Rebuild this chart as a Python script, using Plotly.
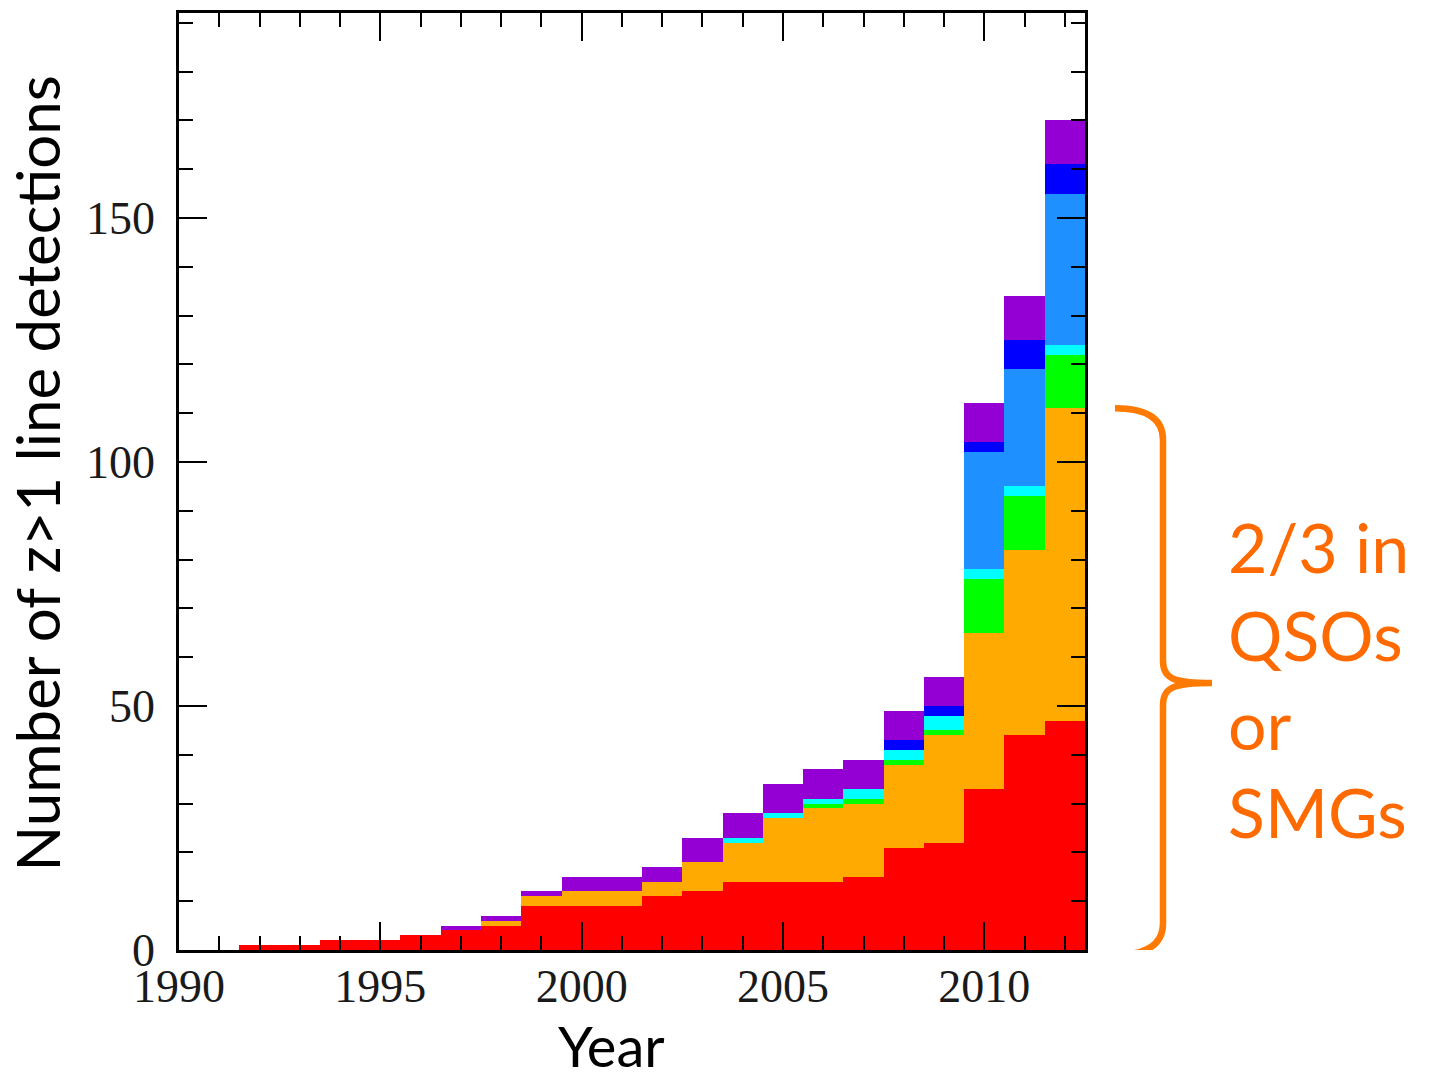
import plotly.graph_objects as go

# ---- data (counts per year bin) ----
years = list(range(1992, 2013))
red_vals    = [1, 1, 2, 2, 3, 4, 5, 9, 9, 9, 11, 12, 14, 14, 14, 15, 21, 22, 33, 44, 47]
orange_vals = [0, 0, 0, 0, 0, 0, 1, 2, 3, 3, 3, 6, 8, 13, 15, 15, 17, 22, 32, 38, 64]
green_vals  = [0, 0, 0, 0, 0, 0, 0, 0, 0, 0, 0, 0, 0, 0, 1, 1, 1, 1, 11, 11, 11]
cyan_vals   = [0, 0, 0, 0, 0, 0, 0, 0, 0, 0, 0, 0, 1, 1, 1, 2, 2, 3, 2, 2, 2]
dodger_vals = [0, 0, 0, 0, 0, 0, 0, 0, 0, 0, 0, 0, 0, 0, 0, 0, 0, 0, 24, 24, 31]
blue_vals   = [0, 0, 0, 0, 0, 0, 0, 0, 0, 0, 0, 0, 0, 0, 0, 0, 2, 2, 2, 6, 6]
purple_vals = [0, 0, 0, 0, 0, 1, 1, 1, 3, 3, 3, 5, 5, 6, 6, 6, 6, 6, 8, 9, 9]

series = [
    ("red", red_vals, "#FF0000"),
    ("orange", orange_vals, "#FFAA00"),
    ("green", green_vals, "#00FF00"),
    ("cyan", cyan_vals, "#00FFFF"),
    ("dodgerblue", dodger_vals, "#1E90FF"),
    ("blue", blue_vals, "#0000FF"),
    ("purple", purple_vals, "#9400D3"),
]

x_tickvals = [1990, 1995, 2000, 2005, 2010]
y_tickvals = [0, 50, 100, 150]

fig = go.Figure()
for name, vals, col in series:
    fig.add_trace(go.Bar(x=years, y=vals, name=name, width=1,
                         marker=dict(color=col, line=dict(width=0)),
                         showlegend=False, hoverinfo="skip"))

W, H = 1431, 1081
L, R, T, B = 179, 346, 10, 131
plot_w = W - L - R
plot_h = H - T - B

def px2paper_x(px):
    return (px - L) / plot_w

def px2paper_y(py):
    return (H - B - py) / plot_h

tickfont = dict(family="Liberation Serif", size=46, color="#1a1a1a")

fig.update_layout(
    width=W, height=H,
    margin=dict(l=L, r=R, t=T, b=B, pad=0),
    barmode="stack", bargap=0,
    plot_bgcolor="white", paper_bgcolor="white",
    xaxis=dict(range=[1990, 2012.5], tickvals=x_tickvals,
               ticktext=[str(v) for v in x_tickvals],
               ticks="inside", ticklen=28, tickwidth=2, tickcolor="black",
               showline=True, linecolor="black", linewidth=2.5, mirror="ticks",
               showgrid=False, zeroline=False, tickfont=tickfont,
               ticklabelstandoff=-6,
               minor=dict(dtick=1, tick0=1990, ticks="inside", ticklen=14,
                          tickwidth=2, tickcolor="black", showgrid=False)),
    yaxis=dict(range=[0, 192], tickvals=y_tickvals,
               ticks="inside", ticklen=28, tickwidth=2, tickcolor="black",
               showline=True, linecolor="black", linewidth=2.5, mirror="ticks",
               showgrid=False, zeroline=False, tickfont=tickfont,
               ticklabelstandoff=12,
               minor=dict(dtick=10, tick0=0, ticks="inside", ticklen=14,
                          tickwidth=2, tickcolor="black", showgrid=False)),
)

# axis titles
fig.add_annotation(text="Number of z>1 line detections", xref="paper", yref="paper",
                   x=px2paper_x(37), y=px2paper_y(472), textangle=-90,
                   showarrow=False, xanchor="center", yanchor="middle",
                   font=dict(family="Lato", size=60, color="black"))
fig.add_annotation(text="Year", xref="paper", yref="paper",
                   x=px2paper_x(611), y=px2paper_y(1046),
                   showarrow=False, xanchor="center", yanchor="middle",
                   font=dict(family="Lato", size=56, color="black"))

# curly brace spanning red+orange of the last bin
top = red_vals[-1] + orange_vals[-1]
bot = -1
mid = top / 2.0 - 0.8
xt = px2paper_x(1115)
xv = px2paper_x(1163)
xp = px2paper_x(1212)
c = 6.5  # curve extent in data units
path = (f"M {xt},{top} Q {xv},{top} {xv},{top - c} "
        f"L {xv},{mid + 4.5} C {xv},{mid + 1} {xv + 0.01},{mid} {xp},{mid} "
        f"C {xv + 0.01},{mid} {xv},{mid - 1} {xv},{mid - 4.5} "
        f"L {xv},{bot + c} Q {xv},{bot} {xt},{bot}")
fig.add_shape(type="path", path=path, xref="paper", yref="y",
              line=dict(color="#FF7A00", width=6.5), layer="above")

fig.add_annotation(text="2/3 in<br>QSOs<br>or<br>SMGs", xref="paper", yref="y",
                   x=px2paper_x(1226), y=55.5, xanchor="left", yanchor="middle",
                   align="left", showarrow=False,
                   font=dict(family="Lato", size=68, color="#FF6A00"))

fig.write_html("out.html", config={"displayModeBar": False},
               post_script="document.body.style.margin='0';")
